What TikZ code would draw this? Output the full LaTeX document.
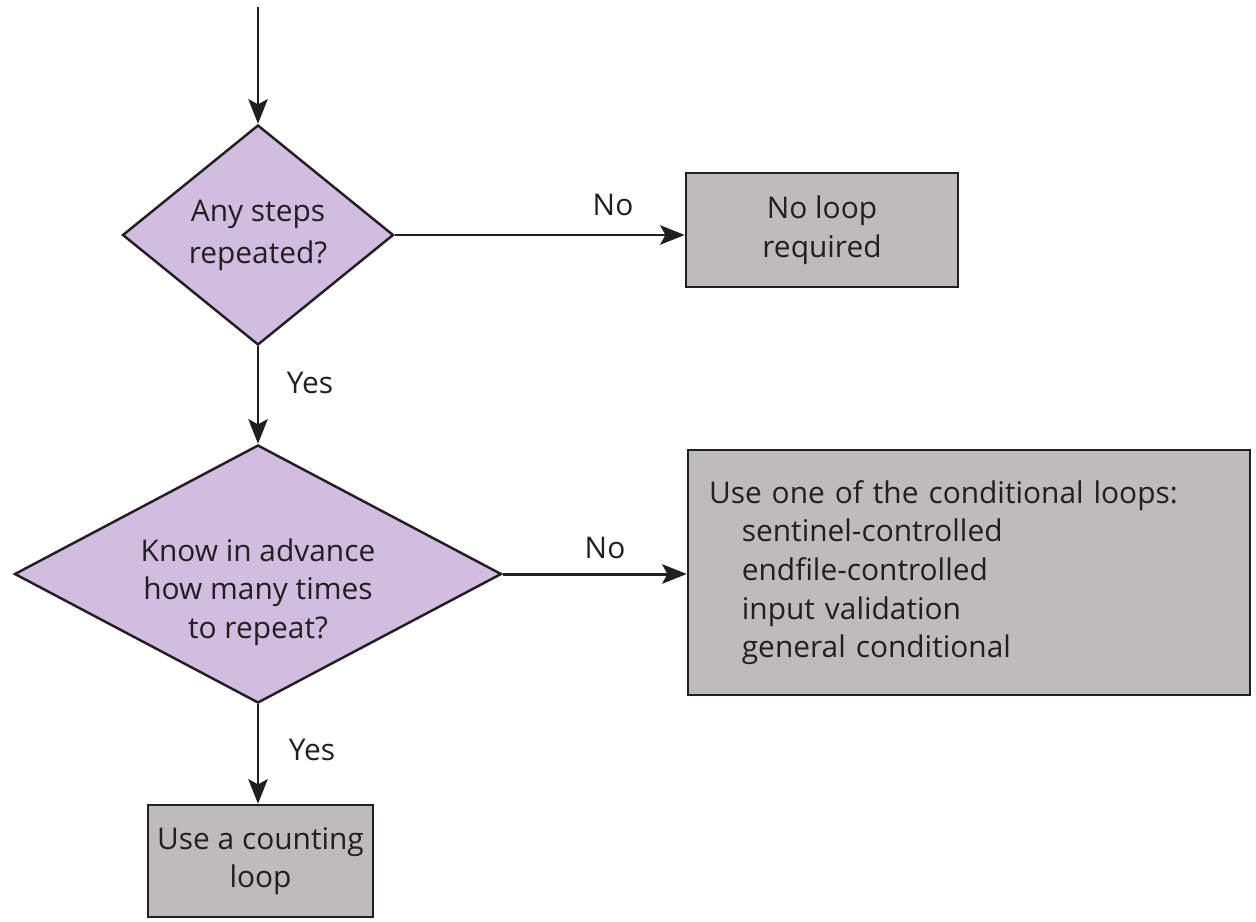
\documentclass[tikz,border=0pt]{standalone}
\usepackage{fontspec}
\setmainfont{Open Sans}
\usetikzlibrary{shapes.geometric}
\usetikzlibrary{arrows.meta}
\definecolor{qpurple}{HTML}{D2BDE1}
\definecolor{boxgray}{HTML}{BDBBBC}
\definecolor{ink}{HTML}{231F20}
\tikzset{
  ask/.style={diamond, draw=ink, line width=1.4pt, fill=qpurple, inner sep=0pt, align=center},
  act/.style={rectangle, draw=ink, line width=1.4pt, fill=boxgray, align=center},
  flow/.style={draw=ink, line width=1.7pt, -{Stealth[length=14pt,width=11pt,inset=3pt]}}
}

\begin{document}
\begin{tikzpicture}[font=\fontsize{17}{22}\selectfont, text=ink]
          \useasboundingbox (0,0) rectangle (25.12,-18.42);
          \coordinate (in) at (5.16,-0.14);
          \node[ask, aspect=1.23, minimum width=5.42cm, minimum height=4.4cm] (rep) at (5.16,-4.7) {Any steps\\[2pt]repeated?};
          \node[act, minimum width=5.44cm, minimum height=2.28cm] (noloop) at (16.44,-4.6) {No loop\\required};
          \node[ask, minimum width=9.74cm, minimum height=5.16cm] (adv) at (5.16,-11.48) {};
          \node[align=center] (advtxt) at (5.16,-11.84) {Know in advance\\how many times\\to repeat?};
          \node[act, align=left, text width=10.4cm, inner xsep=0.42cm, minimum height=4.9cm] (cond) at (19.38,-11.45)
            {Use one of the conditional loops:\\
             \hspace*{1.1em}sentinel-controlled\\
             \hspace*{1.1em}endfile-controlled\\
             \hspace*{1.1em}input validation\\
             \hspace*{1.1em}general conditional};
          \node[act, minimum width=4.5cm, minimum height=2.24cm] (count) at (5.21,-17.22) {Use a counting\\loop};

          \draw[flow] (in) -- (rep);
          \draw[flow] (rep.east) -- (rep.east -| noloop.west);
          \draw[flow] (rep) -- (adv);
          \draw[flow] (adv.east) -- (adv.east -| cond.west);
          \draw[flow] (adv.south) -- (adv.south |- count.north);

          \node (no1) at (12.26,-4.1) {No};
          \node (yes1) at (6.2,-7.66) {Yes};
          \node (no2) at (12.1,-10.96) {No};
          \node (yes2) at (6.24,-15.0) {Yes};
        \end{tikzpicture}
\end{document}
